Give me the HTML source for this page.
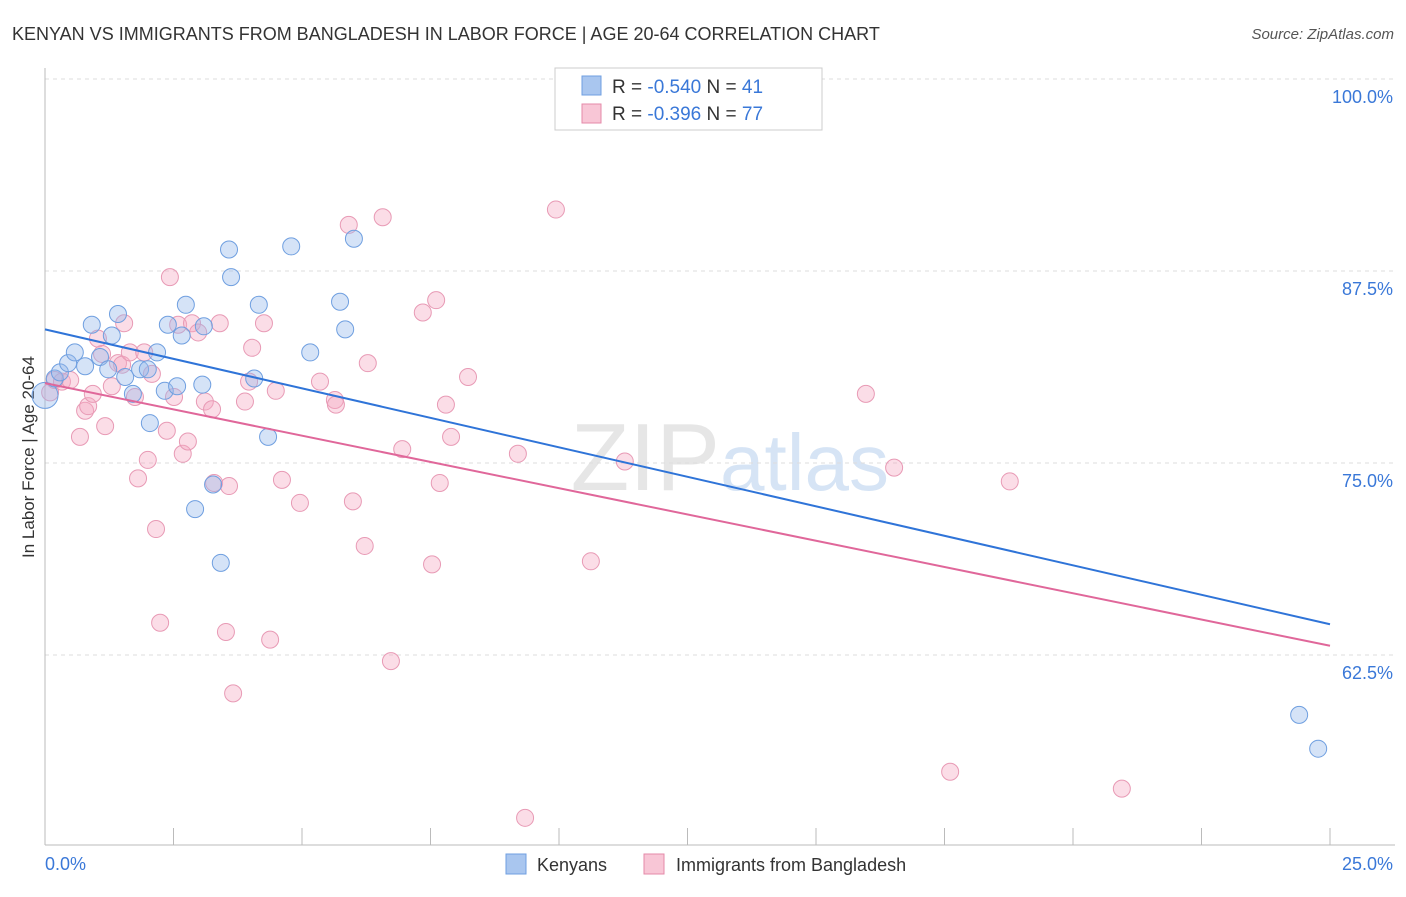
<!DOCTYPE html>
<html><head><meta charset="utf-8"><style>
body{margin:0;background:#fff;font-family:"Liberation Sans",sans-serif;}
svg text{font-family:"Liberation Sans",sans-serif;}
</style></head><body>
<svg id="c" width="1406" height="892" xmlns="http://www.w3.org/2000/svg">
<text x="12" y="40" font-size="18" fill="#333">KENYAN VS IMMIGRANTS FROM BANGLADESH IN LABOR FORCE | AGE 20-64 CORRELATION CHART</text>
<text x="1394" y="39" font-size="15" fill="#555" text-anchor="end" font-style="italic">Source: ZipAtlas.com</text>
<text x="720" y="490" font-size="96" fill="#e6e6e6" text-anchor="end" font-family="Liberation Serif">ZIP</text>
<text x="720" y="490" font-size="80" fill="#d6e4f5">atlas</text>
<text transform="translate(34,457) rotate(-90)" font-size="17" fill="#333" text-anchor="middle">In Labor Force | Age 20-64</text>
<g id="grid"></g><g id="pts"></g><g id="lines"></g>
<g>
<rect x="555" y="68" width="267" height="62" fill="#fff" stroke="#ccc"/>
<rect x="582" y="76" width="19" height="19" fill="#a9c6ef" stroke="#6f9fe0"/>
<rect x="582" y="104" width="19" height="19" fill="#f8c6d6" stroke="#e48aa8"/>
<text x="612" y="93" font-size="19" fill="#333">R = <tspan fill="#3a78d8">-0.540</tspan>   N = <tspan fill="#3a78d8">41</tspan></text>
<text x="612" y="120" font-size="19" fill="#333">R =  <tspan fill="#3a78d8">-0.396</tspan>   N = <tspan fill="#3a78d8">77</tspan></text>
</g>
<g>
<rect x="506" y="854" width="20" height="20" fill="#a9c6ef" stroke="#6f9fe0"/>
<text x="537" y="871" font-size="18" fill="#333">Kenyans</text>
<rect x="644" y="854" width="20" height="20" fill="#f8c6d6" stroke="#e48aa8"/>
<text x="676" y="871" font-size="18" fill="#333">Immigrants from Bangladesh</text>
</g>
</svg>
<script>
const xTicks=[0,2.5,5,7.5,10,12.5,15,17.5,20,22.5,25];
const yTicks=[62.5,75,87.5,100];
const yTickLabels=["62.5%","75.0%","87.5%","100.0%"];
const kenyanX=[12.92,0,0.19,0.29,0.45,0.58,0.78,0.91,1.07,1.23,1.30,1.42,1.56,1.71,1.85,2.00,2.04,2.18,2.33,2.39,2.57,2.66,2.74,3.06,3.09,3.27,2.92,3.42,3.58,3.62,4.07,4.16,4.34,4.79,5.16,5.74,5.84,6.01,24.40,24.77];
const kenyanY=[100,79.4,80.5,80.9,81.5,82.2,81.3,84.0,81.9,81.1,83.3,84.7,80.6,79.5,81.1,81.1,77.6,82.2,79.7,84.0,80.0,83.3,85.3,80.1,83.9,73.6,72.0,68.5,88.9,87.1,80.5,85.3,76.7,89.1,82.2,85.5,83.7,89.6,58.6,56.4];
const bangX=[0.10,0.19,0.33,0.49,0.68,0.78,0.84,0.93,1.03,1.11,1.17,1.30,1.42,1.50,1.54,1.65,1.75,1.81,1.93,2.00,2.08,2.16,2.24,2.37,2.43,2.51,2.59,2.68,2.78,2.86,2.98,3.11,3.25,3.29,3.40,3.52,3.58,3.66,3.89,3.97,4.03,4.26,4.38,4.49,4.61,4.96,5.35,5.64,5.66,5.91,5.99,6.22,6.28,6.57,6.73,6.95,7.35,7.53,7.61,7.68,7.80,7.90,8.23,9.20,9.34,9.94,10.62,11.28,15.97,16.52,17.61,18.77,20.95];
const bangY=[79.6,80.4,80.3,80.4,76.7,78.4,78.7,79.5,83.1,82.1,77.4,80.0,81.5,81.4,84.1,82.2,79.3,74.0,82.2,75.2,80.8,70.7,64.6,77.1,87.1,79.3,84.0,75.6,76.4,84.1,83.5,79.0,78.5,73.7,84.1,64.0,73.5,60.0,79.0,80.3,82.5,84.1,63.5,79.7,73.9,72.4,80.3,79.1,78.8,90.5,72.5,69.6,81.5,91.0,62.1,75.9,84.8,68.4,85.6,73.7,78.8,76.7,80.6,75.6,51.9,91.5,68.6,75.1,79.5,74.7,54.9,73.8,53.8];
const trendKen=[83.7,64.5];const trendBang=[80.2,63.1];
const X=v=>45+v/25*1285, Y=v=>79+(100-v)*15.36;
const NS="http://www.w3.org/2000/svg";
function mk(p,t,a){const e=document.createElementNS(NS,t);for(const k in a)e.setAttribute(k,a[k]);p.appendChild(e);return e;}
const g=document.getElementById('grid');
yTicks.forEach((v,i)=>{
 const l=mk(g,'line',{x1:45,x2:1395,y1:Y(v),y2:Y(v),stroke:'#ddd','stroke-dasharray':'4,4'});
 
 
 const t=mk(g,'text',{x:1393,y:Y(v)+24,'font-size':18,fill:'#3a78d8','text-anchor':'end'});t.textContent=yTickLabels[i];
 
 
});
const ax=mk(g,'line',{x1:45,x2:45,y1:68,y2:845,stroke:'#bbb'});


const bx=mk(g,'line',{x1:45,x2:1395,y1:845,y2:845,stroke:'#bbb'});


xTicks.forEach(v=>{const l=mk(g,'line',{x1:X(v),x2:X(v),y1:828,y2:845,stroke:'#bbb'});
 
 });
[[0,'0.0%','start',45],[25,'25.0%','end',1393]].forEach(a=>{const t=mk(g,'text',{x:a[3],y:870,'font-size':18,fill:'#3a78d8','text-anchor':a[2]});t.textContent=a[1];
 
 });
const p=document.getElementById('pts');
bangX.forEach((x,i)=>{const c=mk(p,'circle',{cx:X(x),cy:Y(bangY[i]),r:8.5,fill:'rgba(244,170,196,0.4)',stroke:'#e89ab5','stroke-width':1});
 
 });
kenyanX.forEach((x,i)=>{const c=mk(p,'circle',{cx:X(x),cy:Y(kenyanY[i]),r:i==1?13:8.5,fill:'rgba(150,185,235,0.4)',stroke:'#6f9fe0','stroke-width':1});
 
 });
const L=document.getElementById('lines');
const l1=mk(L,'line',{x1:X(0),y1:Y(trendKen[0]),x2:X(25),y2:Y(trendKen[1]),stroke:'#2f74d8','stroke-width':2});


const l2=mk(L,'line',{x1:X(0),y1:Y(trendBang[0]),x2:X(25),y2:Y(trendBang[1]),stroke:'#e0679a','stroke-width':2});


</script>
</body></html>
